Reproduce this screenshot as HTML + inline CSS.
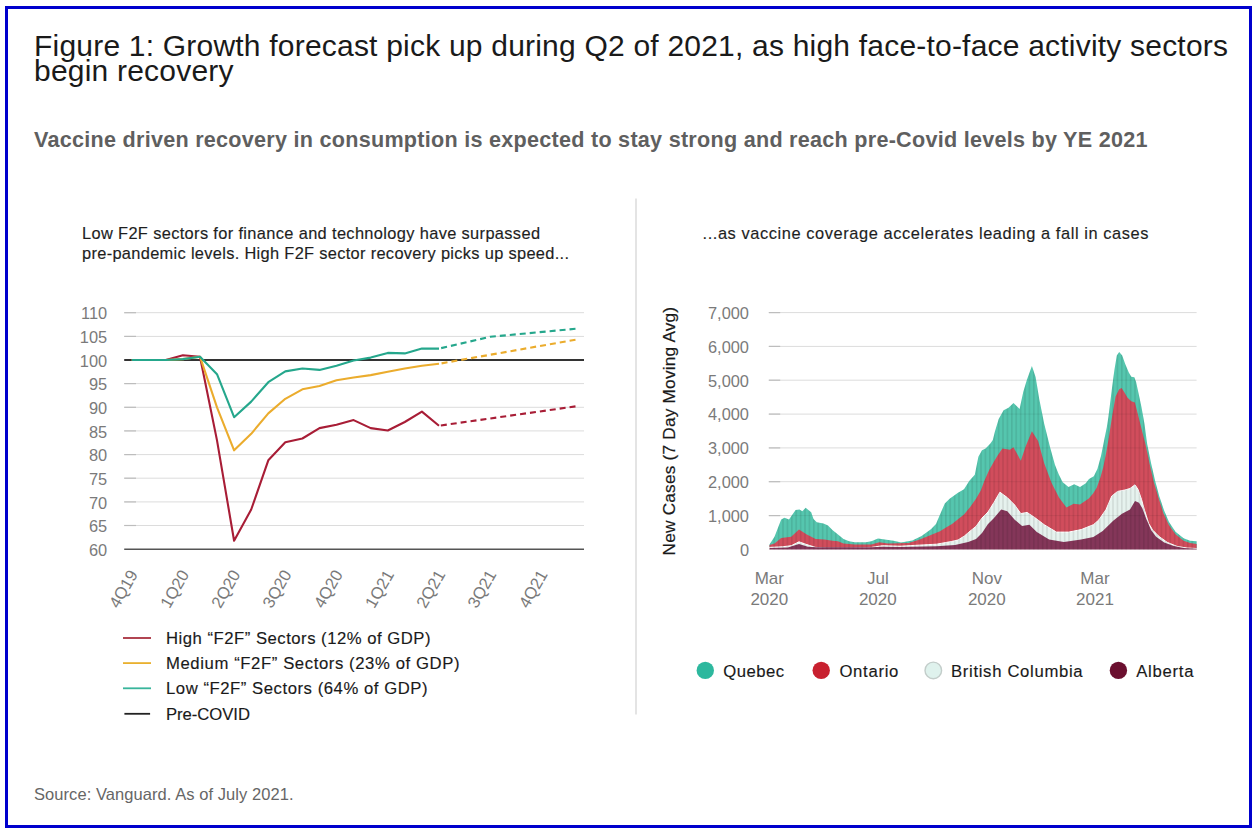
<!DOCTYPE html>
<html><head><meta charset="utf-8"><title>Figure 1</title>
<style>
html,body{margin:0;padding:0;background:#fff;width:1257px;height:833px;overflow:hidden}
svg{display:block}
text{font-family:"Liberation Sans",Arial,sans-serif}
.yl{font-size:16.4px;fill:#7a7a7a;text-anchor:end}
.xl{font-size:16.6px;fill:#7a7a7a;text-anchor:end}
.xr{font-size:17px;fill:#7a7a7a;text-anchor:middle}
.t16{font-size:16.4px;fill:#1e1e1e;stroke:#1e1e1e;stroke-width:0.15px}
.lg{font-size:16.7px;fill:#1a1a1a;stroke:#1a1a1a;stroke-width:0.15px}
</style></head>
<body>
<svg width="1257" height="833" viewBox="0 0 1257 833">
<defs>
<pattern id="stripes" x="769" width="4.4" height="10" patternUnits="userSpaceOnUse">
<rect x="0" y="0" width="1.6" height="10" fill="#000" fill-opacity="0.09"/>
</pattern>
<clipPath id="qcclip"><path d="M769.5,549.4 L769.5,544.6 L774.5,536.8 L781.2,519.5 L784.5,517.8 L789.0,519.5 L795.6,510.0 L799.5,509.5 L802.3,511.2 L805.7,507.8 L809.0,510.6 L811.2,512.3 L813.5,519.0 L816.8,522.3 L823.5,523.4 L828.0,525.6 L832.4,530.1 L838.0,534.5 L843.5,539.0 L849.1,541.2 L854.7,542.3 L865.8,542.3 L871.4,541.2 L878.0,538.4 L884.7,539.6 L893.6,540.7 L901.2,542.4 L912.3,540.5 L921.6,535.9 L930.9,529.3 L936.0,524.0 L940.0,514.4 L944.8,503.6 L949.6,498.8 L958.0,492.8 L964.0,489.2 L969.4,480.8 L974.8,474.8 L978.4,456.8 L982.0,450.2 L985.6,448.4 L990.4,443.6 L992.8,440.0 L995.0,431.2 L998.7,418.9 L1003.6,410.3 L1008.5,407.8 L1013.5,402.9 L1017.1,406.6 L1019.6,409.1 L1023.3,391.8 L1027.0,379.5 L1031.9,366.0 L1035.6,377.1 L1039.3,399.2 L1044.2,423.8 L1050.4,448.4 L1055.0,465.0 L1058.8,474.6 L1062.7,482.3 L1068.5,487.1 L1074.2,484.2 L1080.0,487.1 L1085.8,483.3 L1089.0,479.0 L1093.8,476.3 L1097.4,469.0 L1101.0,456.1 L1103.9,441.6 L1106.8,427.2 L1108.4,416.9 L1112.0,388.1 L1114.4,370.0 L1116.8,355.6 L1119.2,352.0 L1122.2,355.6 L1125.2,364.0 L1128.8,372.5 L1131.3,376.7 L1134.3,377.3 L1136.1,382.1 L1138.5,392.9 L1141.5,407.3 L1144.5,424.1 L1147.2,444.3 L1151.2,463.8 L1155.3,481.6 L1159.3,496.2 L1164.2,510.8 L1169.0,522.1 L1175.5,531.8 L1183.6,538.3 L1190.1,540.7 L1196.6,541.2 L1196.6,549.4 Z"/></clipPath>
</defs>
<rect x="0" y="0" width="1257" height="833" fill="#fff"/>
<rect x="6.5" y="7.5" width="1244" height="819" fill="none" stroke="#0000cd" stroke-width="3"/>

<text x="34" y="55.6" style="font-size:30px;fill:#1a1a1a" textLength="1194" lengthAdjust="spacing">Figure 1: Growth forecast pick up during Q2 of 2021, as high face-to-face activity sectors</text>
<text x="34" y="81.3" style="font-size:30px;fill:#1a1a1a" textLength="199.5" lengthAdjust="spacing">begin recovery</text>

<text x="34" y="146.7" style="font-size:21.6px;font-weight:bold;fill:#5f5f5f" textLength="1113.5" lengthAdjust="spacing">Vaccine driven recovery in consumption is expected to stay strong and reach pre-Covid levels by YE 2021</text>

<!-- left chart -->
<text x="82" y="239.1" class="t16" textLength="458" lengthAdjust="spacing">Low F2F sectors for finance and technology have surpassed</text>
<text x="82" y="259" class="t16" textLength="487" lengthAdjust="spacing">pre-pandemic levels. High F2F sector recovery picks up speed...</text>

<text x="107.2" y="555.8" class="yl">60</text>
<line x1="124.2" y1="549.2" x2="584" y2="549.2" stroke="#555" stroke-width="1.6"/>
<text x="107.2" y="532.1" class="yl">65</text>
<line x1="124.2" y1="525.5" x2="584" y2="525.5" stroke="#dcdcdc" stroke-width="1"/>
<line x1="124.2" y1="525.5" x2="136" y2="525.5" stroke="#bdbdbd" stroke-width="1.2"/>
<text x="107.2" y="508.5" class="yl">70</text>
<line x1="124.2" y1="501.9" x2="584" y2="501.9" stroke="#dcdcdc" stroke-width="1"/>
<line x1="124.2" y1="501.9" x2="136" y2="501.9" stroke="#bdbdbd" stroke-width="1.2"/>
<text x="107.2" y="484.9" class="yl">75</text>
<line x1="124.2" y1="478.2" x2="584" y2="478.2" stroke="#dcdcdc" stroke-width="1"/>
<line x1="124.2" y1="478.2" x2="136" y2="478.2" stroke="#bdbdbd" stroke-width="1.2"/>
<text x="107.2" y="461.2" class="yl">80</text>
<line x1="124.2" y1="454.6" x2="584" y2="454.6" stroke="#dcdcdc" stroke-width="1"/>
<line x1="124.2" y1="454.6" x2="136" y2="454.6" stroke="#bdbdbd" stroke-width="1.2"/>
<text x="107.2" y="437.6" class="yl">85</text>
<line x1="124.2" y1="430.9" x2="584" y2="430.9" stroke="#dcdcdc" stroke-width="1"/>
<line x1="124.2" y1="430.9" x2="136" y2="430.9" stroke="#bdbdbd" stroke-width="1.2"/>
<text x="107.2" y="413.9" class="yl">90</text>
<line x1="124.2" y1="407.3" x2="584" y2="407.3" stroke="#dcdcdc" stroke-width="1"/>
<line x1="124.2" y1="407.3" x2="136" y2="407.3" stroke="#bdbdbd" stroke-width="1.2"/>
<text x="107.2" y="390.2" class="yl">95</text>
<line x1="124.2" y1="383.6" x2="584" y2="383.6" stroke="#dcdcdc" stroke-width="1"/>
<line x1="124.2" y1="383.6" x2="136" y2="383.6" stroke="#bdbdbd" stroke-width="1.2"/>
<text x="107.2" y="366.6" class="yl">100</text>
<text x="107.2" y="343.0" class="yl">105</text>
<line x1="124.2" y1="336.4" x2="584" y2="336.4" stroke="#dcdcdc" stroke-width="1"/>
<line x1="124.2" y1="336.4" x2="136" y2="336.4" stroke="#bdbdbd" stroke-width="1.2"/>
<text x="107.2" y="319.3" class="yl">110</text>
<line x1="124.2" y1="312.7" x2="584" y2="312.7" stroke="#dcdcdc" stroke-width="1"/>
<line x1="124.2" y1="312.7" x2="136" y2="312.7" stroke="#bdbdbd" stroke-width="1.2"/>
<line x1="124.2" y1="360" x2="584" y2="360" stroke="#333" stroke-width="2.2"/>
<g fill="none" stroke-width="2.1" stroke-linejoin="round">
<polyline points="131.7,360.0 148.8,360.0 165.8,360.0 182.9,355.3 200.0,356.7 217.0,440.4 234.1,540.7 251.2,509.5 268.3,460.3 285.3,442.3 302.4,438.5 319.5,428.1 336.5,424.8 353.6,420.1 370.7,428.1 387.8,430.5 404.8,422.0 421.9,411.6 439.0,425.7" stroke="#a81d36"/>
<polyline points="575.5,406.4 439.0,425.7" stroke="#a81d36" stroke-dasharray="6 4"/>
<polyline points="131.7,360.0 148.8,360.0 165.8,360.0 182.9,359.1 200.0,356.7 217.0,407.3 234.1,450.3 251.2,433.8 268.3,413.4 285.3,398.8 302.4,389.3 319.5,386.0 336.5,380.3 353.6,377.5 370.7,375.1 387.8,371.8 404.8,368.5 421.9,365.7 439.0,363.8" stroke="#ebac2d"/>
<polyline points="575.5,339.7 439.0,363.8" stroke="#ebac2d" stroke-dasharray="6 4"/>
<polyline points="131.7,360.0 148.8,360.0 165.8,360.0 182.9,359.1 200.0,356.7 217.0,374.2 234.1,417.2 251.2,401.6 268.3,382.2 285.3,371.4 302.4,368.5 319.5,369.9 336.5,365.7 353.6,360.5 370.7,357.6 387.8,352.9 404.8,353.4 421.9,348.6 439.0,348.6" stroke="#25a78c"/>
<polyline points="575.5,328.8 490.2,336.8 439.0,348.6" stroke="#25a78c" stroke-dasharray="6 4"/>
</g>
<text x="138.5" y="574.2" class="xl" transform="rotate(-60 138.5 574.2)">4Q19</text>
<text x="189.7" y="574.2" class="xl" transform="rotate(-60 189.7 574.2)">1Q20</text>
<text x="240.9" y="574.2" class="xl" transform="rotate(-60 240.9 574.2)">2Q20</text>
<text x="292.1" y="574.2" class="xl" transform="rotate(-60 292.1 574.2)">3Q20</text>
<text x="343.3" y="574.2" class="xl" transform="rotate(-60 343.3 574.2)">4Q20</text>
<text x="394.6" y="574.2" class="xl" transform="rotate(-60 394.6 574.2)">1Q21</text>
<text x="445.8" y="574.2" class="xl" transform="rotate(-60 445.8 574.2)">2Q21</text>
<text x="497.0" y="574.2" class="xl" transform="rotate(-60 497.0 574.2)">3Q21</text>
<text x="548.2" y="574.2" class="xl" transform="rotate(-60 548.2 574.2)">4Q21</text>

<g stroke-width="1.8">
<line x1="123" y1="638" x2="151" y2="638" stroke="#a9303f"/>
<line x1="123" y1="663.1" x2="151" y2="663.1" stroke="#e9b02e"/>
<line x1="123" y1="688.3" x2="151" y2="688.3" stroke="#38b59b"/>
<line x1="124.4" y1="713.8" x2="150.1" y2="713.8" stroke="#222"/>
</g>
<text x="166" y="643.6" class="lg" textLength="264.5" lengthAdjust="spacing">High “F2F” Sectors (12% of GDP)</text>
<text x="166" y="668.6" class="lg" textLength="293.5" lengthAdjust="spacing">Medium “F2F” Sectors (23% of GDP)</text>
<text x="166" y="693.9" class="lg" textLength="261.5" lengthAdjust="spacing">Low “F2F” Sectors (64% of GDP)</text>
<text x="166" y="719.5" class="lg" textLength="84" lengthAdjust="spacing">Pre-COVID</text>

<!-- divider -->
<line x1="636" y1="198.5" x2="636" y2="714.5" stroke="#dedede" stroke-width="1.6"/>

<!-- right chart -->
<text x="702.5" y="239.3" class="t16" textLength="446" lengthAdjust="spacing">...as vaccine coverage accelerates leading a fall in cases</text>
<text x="0" y="0" style="font-size:17.2px;fill:#1a1a1a;stroke:#1a1a1a;stroke-width:0.2px" transform="translate(675.4 555.4) rotate(-90)" textLength="248.5" lengthAdjust="spacing">New Cases (7 Day Moving Avg)</text>
<text x="749" y="555.7" class="yl">0</text>
<text x="749" y="521.9" class="yl">1,000</text>
<line x1="768.8" y1="515.6" x2="1196.6" y2="515.6" stroke="#dcdcdc" stroke-width="1"/>
<line x1="768.8" y1="515.6" x2="780.2" y2="515.6" stroke="#bdbdbd" stroke-width="1.2"/>
<text x="749" y="488.0" class="yl">2,000</text>
<line x1="768.8" y1="481.7" x2="1196.6" y2="481.7" stroke="#dcdcdc" stroke-width="1"/>
<line x1="768.8" y1="481.7" x2="780.2" y2="481.7" stroke="#bdbdbd" stroke-width="1.2"/>
<text x="749" y="454.2" class="yl">3,000</text>
<line x1="768.8" y1="447.9" x2="1196.6" y2="447.9" stroke="#dcdcdc" stroke-width="1"/>
<line x1="768.8" y1="447.9" x2="780.2" y2="447.9" stroke="#bdbdbd" stroke-width="1.2"/>
<text x="749" y="420.4" class="yl">4,000</text>
<line x1="768.8" y1="414.1" x2="1196.6" y2="414.1" stroke="#dcdcdc" stroke-width="1"/>
<line x1="768.8" y1="414.1" x2="780.2" y2="414.1" stroke="#bdbdbd" stroke-width="1.2"/>
<text x="749" y="386.6" class="yl">5,000</text>
<line x1="768.8" y1="380.2" x2="1196.6" y2="380.2" stroke="#dcdcdc" stroke-width="1"/>
<line x1="768.8" y1="380.2" x2="780.2" y2="380.2" stroke="#bdbdbd" stroke-width="1.2"/>
<text x="749" y="352.7" class="yl">6,000</text>
<line x1="768.8" y1="346.4" x2="1196.6" y2="346.4" stroke="#dcdcdc" stroke-width="1"/>
<line x1="768.8" y1="346.4" x2="780.2" y2="346.4" stroke="#bdbdbd" stroke-width="1.2"/>
<text x="749" y="318.9" class="yl">7,000</text>
<line x1="768.8" y1="312.6" x2="1196.6" y2="312.6" stroke="#dcdcdc" stroke-width="1"/>
<line x1="768.8" y1="312.6" x2="780.2" y2="312.6" stroke="#bdbdbd" stroke-width="1.2"/>
<path d="M769.5,549.4 L769.5,544.6 L774.5,536.8 L781.2,519.5 L784.5,517.8 L789.0,519.5 L795.6,510.0 L799.5,509.5 L802.3,511.2 L805.7,507.8 L809.0,510.6 L811.2,512.3 L813.5,519.0 L816.8,522.3 L823.5,523.4 L828.0,525.6 L832.4,530.1 L838.0,534.5 L843.5,539.0 L849.1,541.2 L854.7,542.3 L865.8,542.3 L871.4,541.2 L878.0,538.4 L884.7,539.6 L893.6,540.7 L901.2,542.4 L912.3,540.5 L921.6,535.9 L930.9,529.3 L936.0,524.0 L940.0,514.4 L944.8,503.6 L949.6,498.8 L958.0,492.8 L964.0,489.2 L969.4,480.8 L974.8,474.8 L978.4,456.8 L982.0,450.2 L985.6,448.4 L990.4,443.6 L992.8,440.0 L995.0,431.2 L998.7,418.9 L1003.6,410.3 L1008.5,407.8 L1013.5,402.9 L1017.1,406.6 L1019.6,409.1 L1023.3,391.8 L1027.0,379.5 L1031.9,366.0 L1035.6,377.1 L1039.3,399.2 L1044.2,423.8 L1050.4,448.4 L1055.0,465.0 L1058.8,474.6 L1062.7,482.3 L1068.5,487.1 L1074.2,484.2 L1080.0,487.1 L1085.8,483.3 L1089.0,479.0 L1093.8,476.3 L1097.4,469.0 L1101.0,456.1 L1103.9,441.6 L1106.8,427.2 L1108.4,416.9 L1112.0,388.1 L1114.4,370.0 L1116.8,355.6 L1119.2,352.0 L1122.2,355.6 L1125.2,364.0 L1128.8,372.5 L1131.3,376.7 L1134.3,377.3 L1136.1,382.1 L1138.5,392.9 L1141.5,407.3 L1144.5,424.1 L1147.2,444.3 L1151.2,463.8 L1155.3,481.6 L1159.3,496.2 L1164.2,510.8 L1169.0,522.1 L1175.5,531.8 L1183.6,538.3 L1190.1,540.7 L1196.6,541.2 L1196.6,549.4 Z" fill="#55c6ae"/>
<path d="M769.5,549.4 L769.5,545.1 L774.5,543.5 L781.2,537.9 L791.2,536.8 L799.0,529.5 L806.8,534.5 L815.7,539.0 L824.6,539.6 L832.4,540.7 L838.0,541.2 L843.5,543.5 L854.7,544.6 L871.4,544.6 L879.2,542.3 L888.0,543.5 L908.6,543.0 L919.8,539.5 L930.9,535.0 L940.0,531.2 L946.0,527.6 L952.0,524.0 L958.0,519.2 L964.0,514.4 L970.0,507.2 L976.0,498.8 L980.8,490.4 L984.4,480.8 L989.2,470.0 L994.0,461.6 L997.6,455.6 L1000.0,452.0 L1002.4,448.4 L1009.8,449.7 L1013.5,447.2 L1020.8,460.7 L1025.8,446.0 L1031.9,431.2 L1038.1,441.0 L1044.2,463.2 L1051.6,482.9 L1059.0,497.6 L1066.4,507.5 L1073.7,503.8 L1080.0,504.4 L1088.8,498.6 L1093.1,493.6 L1096.7,487.8 L1100.3,477.7 L1103.2,467.6 L1106.1,453.2 L1108.9,437.3 L1112.0,416.9 L1115.6,396.5 L1119.2,389.3 L1121.6,388.1 L1124.0,391.7 L1127.6,397.7 L1131.3,401.3 L1134.9,402.5 L1137.3,412.1 L1140.3,424.1 L1143.3,436.0 L1145.5,444.3 L1149.6,463.8 L1153.6,481.6 L1158.5,497.8 L1163.4,513.2 L1169.0,525.3 L1175.5,534.3 L1183.6,540.7 L1190.1,542.9 L1196.6,544.0 L1196.6,549.4 Z" fill="#d14d5c"/>
<path d="M769.5,549.4 L769.5,547.4 L782.3,546.8 L791.2,545.7 L799.0,541.8 L806.8,544.6 L815.7,547.4 L826.8,547.9 L849.0,547.9 L871.4,547.4 L882.5,545.7 L900.0,546.2 L917.9,545.2 L936.5,544.2 L951.4,541.5 L958.0,540.0 L964.4,536.0 L970.0,531.2 L976.0,526.4 L982.0,518.0 L988.0,512.0 L994.0,502.4 L999.9,492.2 L1007.3,497.6 L1014.7,505.0 L1020.8,513.6 L1027.0,512.4 L1034.4,517.3 L1044.2,524.7 L1056.5,532.1 L1068.8,532.1 L1081.1,529.6 L1093.4,524.7 L1098.8,520.0 L1106.1,509.4 L1111.8,496.0 L1117.6,491.4 L1124.8,490.0 L1130.0,488.5 L1135.0,484.8 L1138.2,489.7 L1141.5,499.4 L1144.7,510.8 L1148.8,523.7 L1152.8,530.2 L1159.3,536.7 L1167.4,542.4 L1177.1,546.4 L1186.9,548.0 L1196.6,548.5 L1196.6,549.4 Z" fill="#e6f2ee" stroke="#fff" stroke-width="1"/>
<path d="M769.5,549.4 L769.5,548.0 L787.8,547.6 L799.0,544.0 L807.9,546.8 L815.7,547.2 L871.4,547.2 L882.5,546.8 L900.0,547.0 L936.5,546.3 L955.1,545.0 L968.2,542.0 L976.0,539.0 L982.0,533.0 L988.0,524.0 L994.0,518.0 L1001.2,509.4 L1007.3,511.2 L1014.7,519.8 L1022.1,525.9 L1029.4,524.7 L1036.8,532.1 L1049.1,539.5 L1063.9,541.9 L1081.1,539.5 L1093.4,537.0 L1102.7,531.1 L1113.2,520.8 L1122.0,513.8 L1130.0,509.4 L1135.0,501.0 L1139.0,502.7 L1142.3,508.3 L1146.3,518.9 L1151.2,530.2 L1156.1,536.7 L1164.2,542.4 L1173.9,546.1 L1183.6,548.0 L1196.6,548.8 L1196.6,549.4 Z" fill="#843659"/>
<rect x="769" y="300" width="428" height="250" fill="url(#stripes)" clip-path="url(#qcclip)"/>
<g clip-path="url(#qcclip)"><line x1="768.8" y1="515.6" x2="1196.6" y2="515.6" stroke="#000" stroke-opacity="0.07" stroke-width="1"/><line x1="768.8" y1="481.7" x2="1196.6" y2="481.7" stroke="#000" stroke-opacity="0.07" stroke-width="1"/><line x1="768.8" y1="447.9" x2="1196.6" y2="447.9" stroke="#000" stroke-opacity="0.07" stroke-width="1"/><line x1="768.8" y1="414.1" x2="1196.6" y2="414.1" stroke="#000" stroke-opacity="0.07" stroke-width="1"/><line x1="768.8" y1="380.2" x2="1196.6" y2="380.2" stroke="#000" stroke-opacity="0.07" stroke-width="1"/><line x1="768.8" y1="346.4" x2="1196.6" y2="346.4" stroke="#000" stroke-opacity="0.07" stroke-width="1"/><line x1="768.8" y1="312.6" x2="1196.6" y2="312.6" stroke="#000" stroke-opacity="0.07" stroke-width="1"/></g>

<text x="769.3" y="583.6" class="xr">Mar</text><text x="769.3" y="604.5" class="xr">2020</text>
<text x="877.8" y="583.6" class="xr">Jul</text><text x="877.8" y="604.5" class="xr">2020</text>
<text x="986.8" y="583.6" class="xr">Nov</text><text x="986.8" y="604.5" class="xr">2020</text>
<text x="1095" y="583.6" class="xr">Mar</text><text x="1095" y="604.5" class="xr">2021</text>

<circle cx="705.3" cy="670.4" r="8.7" fill="#2db89e"/>
<circle cx="821.2" cy="670.4" r="8.7" fill="#c8202f"/>
<circle cx="933.3" cy="670.4" r="8.3" fill="#dff2ed" stroke="#c3cdca" stroke-width="1.4"/>
<circle cx="1118.4" cy="670.4" r="8.7" fill="#6b0f2f"/>
<text x="723.2" y="676.8" class="lg" textLength="61" lengthAdjust="spacing">Quebec</text>
<text x="839.4" y="676.8" class="lg" textLength="59" lengthAdjust="spacing">Ontario</text>
<text x="951" y="676.8" class="lg" textLength="131.6" lengthAdjust="spacing">British Columbia</text>
<text x="1136.2" y="676.8" class="lg" textLength="57.3" lengthAdjust="spacing">Alberta</text>

<text x="34" y="799.6" style="font-size:16.5px;fill:#666" textLength="259.5" lengthAdjust="spacing">Source: Vanguard. As of July 2021.</text>
</svg>
</body></html>
